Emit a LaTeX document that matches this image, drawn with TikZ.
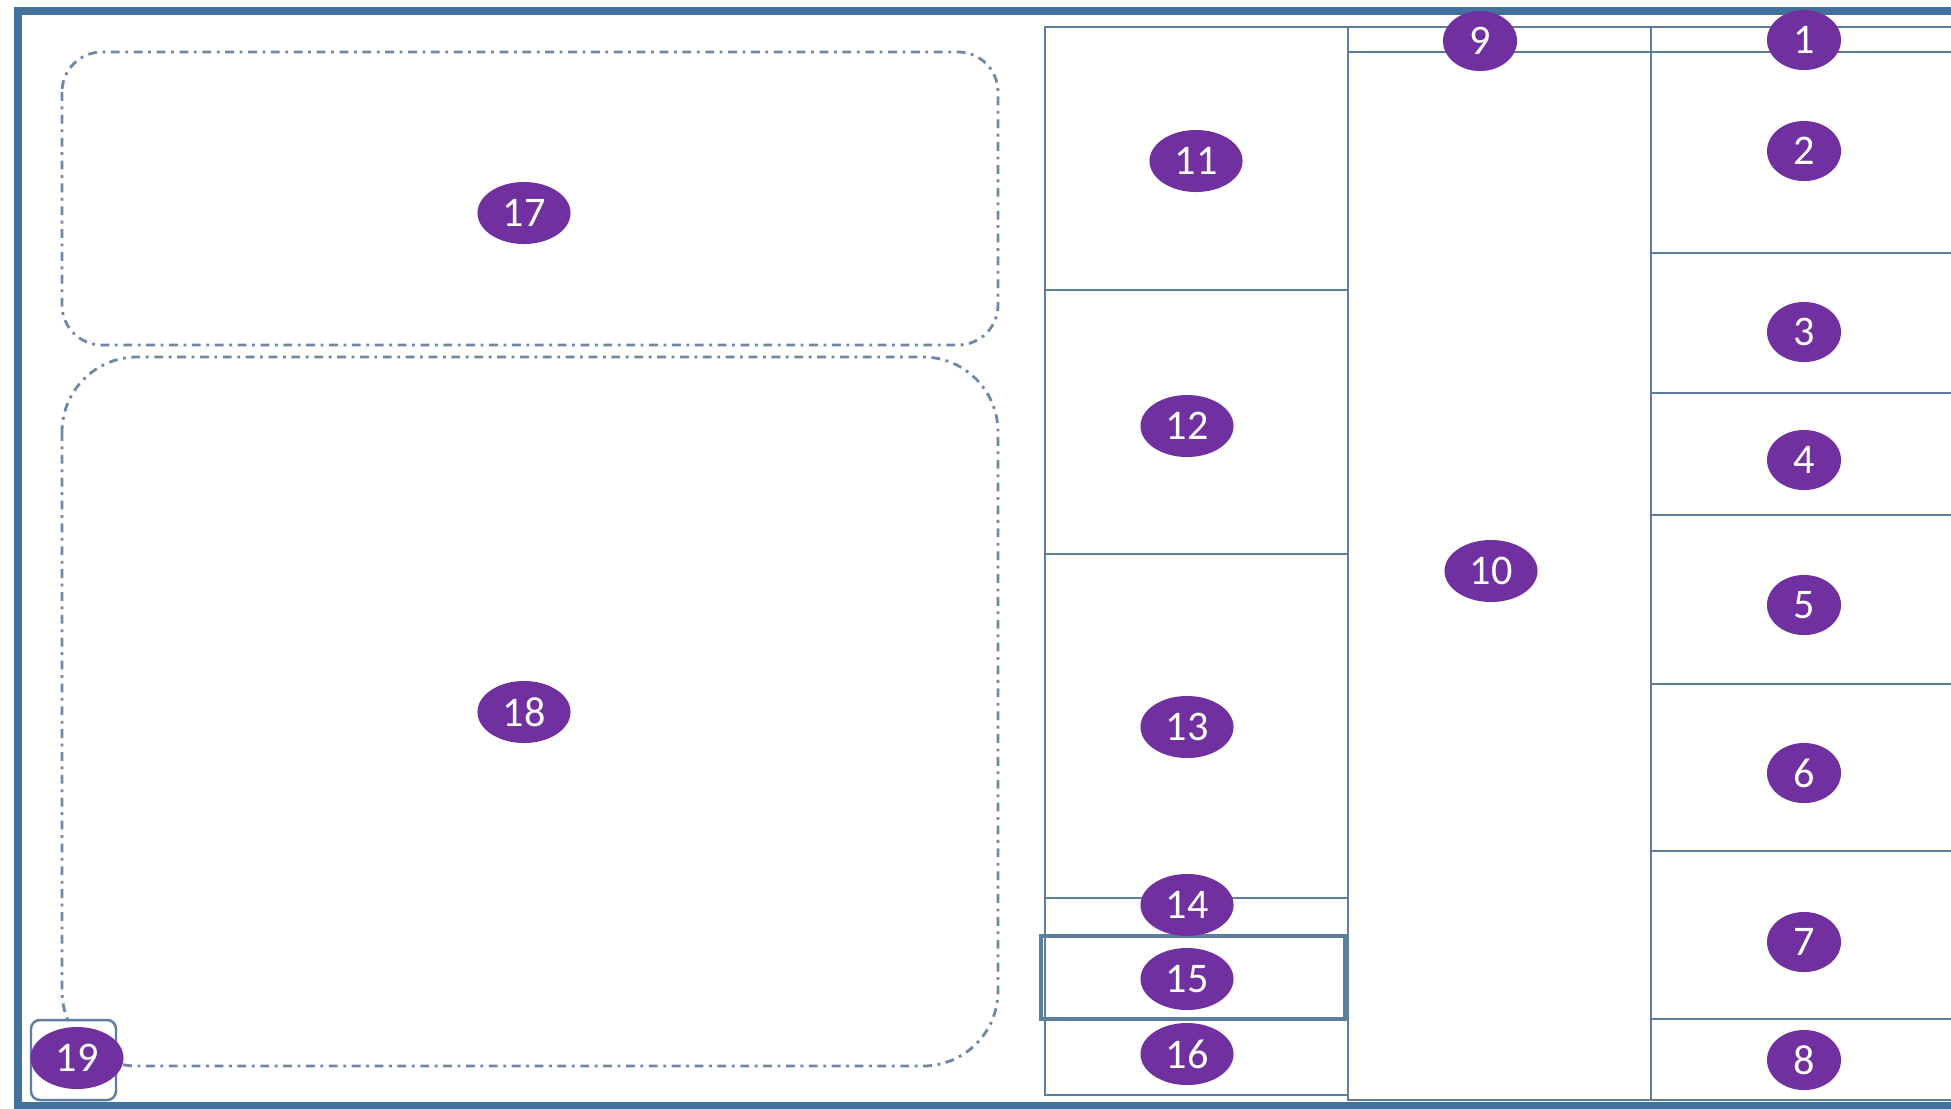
\documentclass[tikz,border=0pt]{standalone}
\usepackage{fontspec}
\setsansfont{Carlito}
\usetikzlibrary{shapes.geometric}
\definecolor{frameblue}{HTML}{41719C}
\definecolor{gridblue}{HTML}{5E7E9E}
\definecolor{dashblue}{HTML}{6F88A8}
\definecolor{badgepurple}{HTML}{7030A0}
\tikzset{
  badge/.style={ellipse, fill=badgepurple, text=white, inner sep=0pt, minimum width=0.74cm, minimum height=0.6cm, font=\sffamily\fontsize{12}{14}\selectfont},
  widebadge/.style={badge, minimum width=0.93cm, minimum height=0.62cm},
  panel/.style={draw=gridblue, line width=0.7pt},
  zone/.style={draw=dashblue, line width=0.8pt, dash pattern=on 2.5pt off 1.6pt on 0.8pt off 1.6pt},
}

\begin{document}
\begin{tikzpicture}[x=0.01cm, y=-0.01cm]
	\clip (0,0) rectangle (1951,1108);
	\fill[white] (0,0) rectangle (1951,1108);
	
	\draw[frameblue, line width=2.3pt] (18,11) rectangle (1990,1106);
	
	\draw[zone, rounded corners=0.4cm] (62,52) rectangle (998,345);
	\draw[zone, rounded corners=0.75cm] (62,357) rectangle (998,1066);
	
	\draw[panel] (1045,27) rectangle (1348,1095);
	\draw[panel] (1045,290) -- (1348,290);
	\draw[panel] (1045,554) -- (1348,554);
	\draw[panel] (1045,898) -- (1348,898);
	\draw[panel, line width=0.9pt] (1041,936) rectangle (1345,1019);
	
	\draw[panel] (1348,27) rectangle (1651,1100);
	\draw[panel] (1348,52) -- (1651,52);
	
	\draw[panel] (1651,27) -- (1960,27);
	\draw[panel] (1651,1100) -- (1960,1100);
	\foreach \y in {52,253,393,515,684,851,1019}
		\draw[panel] (1651,\y) -- (1960,\y);
	
	\draw[panel, fill=white, rounded corners=2.5pt] (31,1020) rectangle (116,1100);
	
	\node[badge] (one) at (1804,40) {1};
	\node[badge] (two) at (1804,151) {2};
	\node[badge] (three) at (1804,332) {3};
	\node[badge] (four) at (1804,460) {4};
	\node[badge] (five) at (1804,605) {5};
	\node[badge] (six) at (1804,773) {6};
	\node[badge] (seven) at (1804,942) {7};
	\node[badge] (eight) at (1804,1060) {8};
	\node[badge] (nine) at (1480,41) {9};
	\node[widebadge] (ten) at (1491,571) {10};
	\node[widebadge] (eleven) at (1196,161) {11};
	\node[widebadge] (twelve) at (1187,426) {12};
	\node[widebadge] (thirteen) at (1187,727) {13};
	\node[widebadge] (fourteen) at (1187,905) {14};
	\node[widebadge] (fifteen) at (1187,979) {15};
	\node[widebadge] (sixteen) at (1187,1054) {16};
	\node[widebadge] (seventeen) at (524,213) {17};
	\node[widebadge] (eighteen) at (524,712) {18};
	\node[widebadge] (nineteen) at (77,1058) {19};
\end{tikzpicture}
\end{document}
